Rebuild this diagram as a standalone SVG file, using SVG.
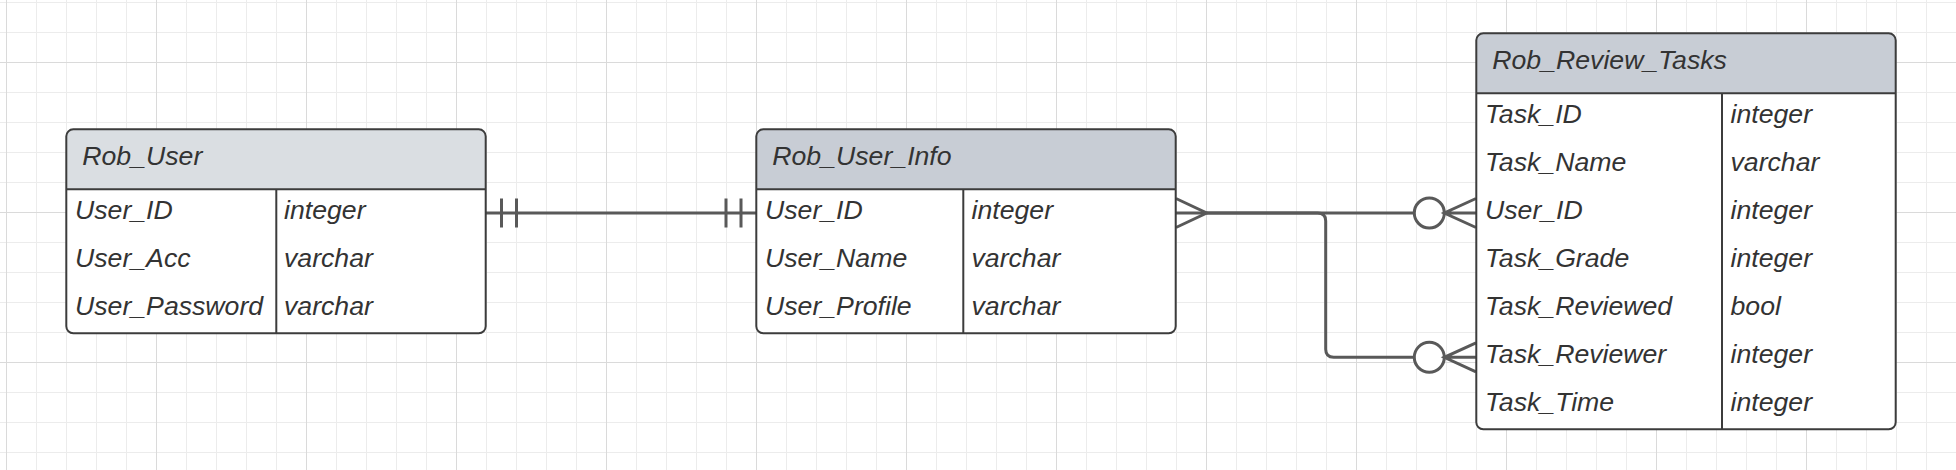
<svg xmlns="http://www.w3.org/2000/svg" width="1956" height="470" viewBox="0 0 1956 470">
<defs>
<pattern id="gMinor" width="30" height="30" patternUnits="userSpaceOnUse" x="6" y="2"><path d="M0.5 0V30M0 0.5H30" stroke="#ececec" stroke-width="1" fill="none"/></pattern>
<pattern id="gMajor" width="150" height="150" patternUnits="userSpaceOnUse" x="6" y="62"><path d="M0.5 0V150M0 0.5H150" stroke="#dadada" stroke-width="1" fill="none"/></pattern>
<style>
.t{font-family:"Liberation Sans",Arial,sans-serif;font-style:italic;font-size:26.67px;fill:#333333}
.box{fill:#ffffff;stroke:none}
.outline{fill:none;stroke:#3c3c3c;stroke-width:2}
.ln{stroke:#3c3c3c;stroke-width:2;fill:none}
.hdA{fill:#dadee2}
.hdB{fill:#c8cdd5}
.c{fill:none;stroke:#595959;stroke-width:3;stroke-linecap:butt}
.circ{fill:#ffffff;stroke:#595959;stroke-width:3}
</style>
</defs>
<rect width="1956" height="470" fill="#ffffff"/>
<rect width="1956" height="470" fill="url(#gMinor)"/>
<rect width="1956" height="470" fill="url(#gMajor)"/>

<g id="connectors">
  <!-- Rob_User to Rob_User_Info: one and only one on both ends -->
  <path class="c" d="M486 213H756"/>
  <path class="c" d="M501.5 198.5V227.5M516.5 198.5V227.5M726 198.5V227.5M741 198.5V227.5"/>
  <!-- Rob_User_Info to Rob_Review_Tasks.User_ID -->
  <path class="c" d="M1176 213H1414.3"/>
  <path class="c" d="M1176 198.5L1206.7 213L1176 227.5"/>
  <circle class="circ" cx="1429.3" cy="213" r="15"/>
  <path class="c" d="M1444.3 213H1476M1476 198.5L1444.3 213L1476 227.5"/>
  <!-- Rob_User_Info to Rob_Review_Tasks.Task_Reviewer -->
  <path class="c" d="M1206.7 213H1317.7Q1325.7 213 1325.7 221V349.3Q1325.7 357.3 1333.7 357.3H1414.3"/>
  <circle class="circ" cx="1429.3" cy="357.3" r="15"/>
  <path class="c" d="M1444.3 357.3H1476M1476 342.8L1444.3 357.3L1476 371.8"/>
</g>

<g id="Rob_User">
  <rect class="box" x="66.3" y="129.3" width="419.4" height="204" rx="7"/>
  <path class="hdA" d="M66.3 189.3V136.3Q66.3 129.3 73.3 129.3H478.7Q485.7 129.3 485.7 136.3V189.3Z"/>
  <path class="ln" d="M66.3 189.3H485.7M276.3 189.3V333.3"/>
  <rect class="outline" x="66.3" y="129.3" width="419.4" height="204" rx="7"/>
  <text class="t" x="82.3" y="165">Rob_User</text>
  <text class="t" x="75" y="219.3">User_ID</text>
  <text class="t" x="284" y="219.3">integer</text>
  <text class="t" x="75" y="267.3">User_Acc</text>
  <text class="t" x="284" y="267.3">varchar</text>
  <text class="t" x="75" y="315.3">User_Password</text>
  <text class="t" x="284" y="315.3">varchar</text>
</g>

<g id="Rob_User_Info">
  <rect class="box" x="756.3" y="129.3" width="419.4" height="204" rx="7"/>
  <path class="hdB" d="M756.3 189.3V136.3Q756.3 129.3 763.3 129.3H1168.7Q1175.7 129.3 1175.7 136.3V189.3Z"/>
  <path class="ln" d="M756.3 189.3H1175.7M963.3 189.3V333.3"/>
  <rect class="outline" x="756.3" y="129.3" width="419.4" height="204" rx="7"/>
  <text class="t" x="772.3" y="165">Rob_User_Info</text>
  <text class="t" x="765" y="219.3">User_ID</text>
  <text class="t" x="971.5" y="219.3">integer</text>
  <text class="t" x="765" y="267.3">User_Name</text>
  <text class="t" x="971.5" y="267.3">varchar</text>
  <text class="t" x="765" y="315.3">User_Profile</text>
  <text class="t" x="971.5" y="315.3">varchar</text>
</g>

<g id="Rob_Review_Tasks">
  <rect class="box" x="1476.3" y="33.3" width="419.4" height="396" rx="7"/>
  <path class="hdB" d="M1476.3 93.3V40.3Q1476.3 33.3 1483.3 33.3H1888.7Q1895.7 33.3 1895.7 40.3V93.3Z"/>
  <path class="ln" d="M1476.3 93.3H1895.7M1722 93.3V429.3"/>
  <rect class="outline" x="1476.3" y="33.3" width="419.4" height="396" rx="7"/>
  <text class="t" x="1492.3" y="69">Rob_Review_Tasks</text>
  <text class="t" x="1485" y="123">Task_ID</text>
  <text class="t" x="1730.5" y="123">integer</text>
  <text class="t" x="1485" y="171">Task_Name</text>
  <text class="t" x="1730.5" y="171">varchar</text>
  <text class="t" x="1485" y="219">User_ID</text>
  <text class="t" x="1730.5" y="219">integer</text>
  <text class="t" x="1485" y="267">Task_Grade</text>
  <text class="t" x="1730.5" y="267">integer</text>
  <text class="t" x="1485" y="315">Task_Reviewed</text>
  <text class="t" x="1730.5" y="315">bool</text>
  <text class="t" x="1485" y="363">Task_Reviewer</text>
  <text class="t" x="1730.5" y="363">integer</text>
  <text class="t" x="1485" y="411">Task_Time</text>
  <text class="t" x="1730.5" y="411">integer</text>
</g>
</svg>
